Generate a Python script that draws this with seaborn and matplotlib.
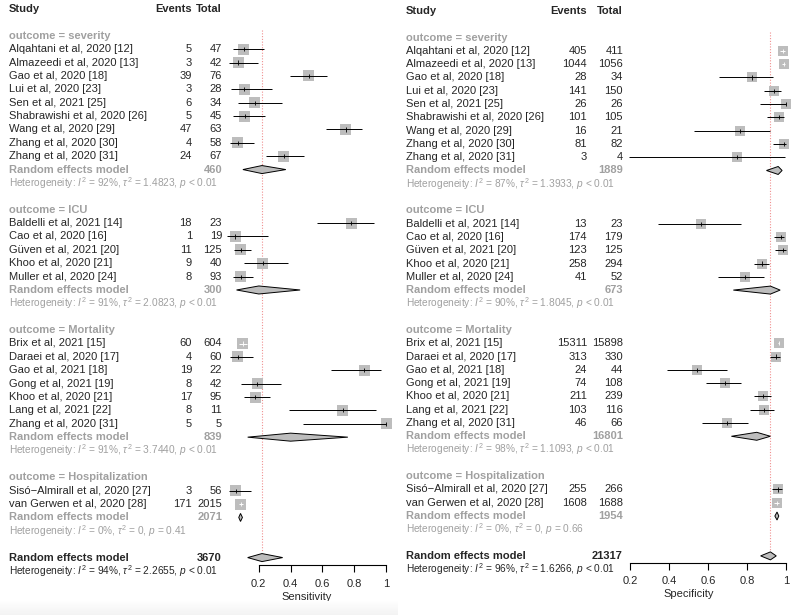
import numpy as np
import pandas as pd
import matplotlib
matplotlib.use("Agg")
import matplotlib.pyplot as plt
import matplotlib.transforms as mtransforms
import seaborn as sns

GROUPS = ["severity", "ICU", "Mortality", "Hospitalization"]
GROUP_SIZES = [9, 5, 7, 2]

STUDIES = [
    "Alqahtani et al, 2020 [12]", "Almazeedi et al, 2020 [13]", "Gao et al, 2020 [18]",
    "Lui et al, 2020 [23]", "Sen et al, 2021 [25]", "Shabrawishi et al, 2020 [26]",
    "Wang et al, 2020 [29]", "Zhang et al, 2020 [30]", "Zhang et al, 2020 [31]",
    "Baldelli et al, 2021 [14]", "Cao et al, 2020 [16]", "Güven et al, 2021 [20]",
    "Khoo et al, 2020 [21]", "Muller et al, 2020 [24]",
    "Brix et al, 2021 [15]", "Daraei et al, 2020 [17]", "Gao et al, 2021 [18]",
    "Gong et al, 2021 [19]", "Khoo et al, 2020 [21]", "Lang et al, 2021 [22]",
    "Zhang et al, 2020 [31]",
    "Sisó\u2212Almirall et al, 2020 [27]", "van Gerwen et al, 2020 [28]",
]

# sensitivity panel
sens_events = [5, 3, 39, 3, 6, 5, 47, 4, 24, 18, 1, 11, 9, 8, 60, 4, 19, 8, 17, 8, 5, 3, 171]
sens_total = [47, 42, 76, 28, 34, 45, 63, 58, 67, 23, 19, 125, 40, 93, 604, 60, 22, 42, 95, 11, 5, 56, 2015]
sens_est = [0.106, 0.071, 0.513, 0.107, 0.176, 0.111, 0.746, 0.069, 0.358,
            0.783, 0.053, 0.088, 0.225, 0.086,
            0.099, 0.067, 0.864, 0.190, 0.179, 0.727, 1.000,
            0.054, 0.085]
sens_lo = [0.035, 0.015, 0.396, 0.023, 0.068, 0.037, 0.620, 0.019, 0.246,
           0.563, 0.001, 0.045, 0.108, 0.038,
           0.077, 0.018, 0.651, 0.086, 0.108, 0.390, 0.478,
           0.011, 0.073]
sens_hi = [0.231, 0.195, 0.630, 0.282, 0.345, 0.241, 0.847, 0.167, 0.484,
           0.925, 0.260, 0.152, 0.385, 0.162,
           0.126, 0.162, 0.971, 0.341, 0.271, 0.940, 1.000,
           0.149, 0.098]
sens_re_est = [0.22, 0.20, 0.40, 0.085]
sens_re_lo = [0.10, 0.06, 0.13, 0.074]
sens_re_hi = [0.37, 0.46, 0.76, 0.097]
sens_re_total = [460, 300, 839, 2071]
sens_het = [("92%", "1.4823", "< 0.01"), ("91%", "2.0823", "< 0.01"),
            ("91%", "3.7440", "< 0.01"), ("0%", "0", "= 0.41")]
sens_all = (0.22, 0.13, 0.35)
sens_all_total = 3670
sens_all_het = ("94%", "2.2655", "< 0.01")

# specificity panel
spec_events = [405, 1044, 28, 141, 26, 101, 16, 81, 3, 13, 174, 123, 258, 41,
               15311, 313, 24, 74, 211, 103, 46, 255, 1608]
spec_total = [411, 1056, 34, 150, 26, 105, 21, 82, 4, 23, 179, 125, 294, 52,
              15898, 330, 44, 108, 239, 116, 66, 266, 1688]
spec_est = [0.985, 0.989, 0.824, 0.940, 1.000, 0.962, 0.762, 0.988, 0.750,
            0.565, 0.972, 0.984, 0.878, 0.788,
            0.963, 0.948, 0.545, 0.685, 0.883, 0.888, 0.697,
            0.959, 0.953]
spec_lo = [0.969, 0.980, 0.655, 0.889, 0.868, 0.905, 0.528, 0.934, 0.194,
           0.345, 0.936, 0.943, 0.835, 0.652,
           0.960, 0.919, 0.388, 0.589, 0.835, 0.816, 0.571,
           0.927, 0.941]
spec_hi = [0.995, 0.994, 0.932, 0.972, 1.000, 0.990, 0.918, 1.000, 0.994,
           0.768, 0.991, 0.998, 0.913, 0.889,
           0.966, 0.970, 0.696, 0.771, 0.921, 0.939, 0.804,
           0.979, 0.962]
spec_re_est = [0.96, 0.92, 0.85, 0.954]
spec_re_lo = [0.90, 0.73, 0.72, 0.943]
spec_re_hi = [0.98, 0.97, 0.92, 0.963]
spec_re_total = [1889, 673, 16801, 1954]
spec_het = [("87%", "1.3933", "< 0.01"), ("90%", "1.8045", "< 0.01"),
            ("98%", "1.1093", "< 0.01"), ("0%", "0", "= 0.66")]
spec_all = (0.92, 0.87, 0.95)
spec_all_total = 21317
spec_all_het = ("96%", "1.6266", "< 0.01")

TICKS = [0.2, 0.4, 0.6, 0.8, 1.0]
TICK_LABELS = ["0.2", "0.4", "0.6", "0.8", "1"]

GRAY = "#A0A0A0"
SQUARE = "#BDBDBD"
W, H = 797, 615

sns.set_style("white")
plt.rcParams["font.family"] = ["Liberation Sans", "DejaVu Sans"]
plt.rcParams["mathtext.fontset"] = "custom"
plt.rcParams["mathtext.rm"] = "Liberation Sans"
plt.rcParams["mathtext.it"] = "Liberation Sans:italic"
plt.rcParams["mathtext.bf"] = "Liberation Sans:bold"


def het_text(h):
    return f"Heterogeneity: $I^2$ = {h[0]}, $\\tau^2$ = {h[1]}, $p$ {h[2]}"


def draw_panel(fig, ax_px, top, step, cols, events, totals, est, lo, hi,
               re_est, re_lo, re_hi, re_total, het, overall, all_total, all_het,
               xlabel, sq, axis_row):
    x0, width = ax_px
    ax = fig.add_axes([x0 / W, 0, width / W, 1])
    ax.set_xlim(0, 1)
    ax.set_ylim((H - top) / step, -top / step)
    ax.patch.set_alpha(0)
    trans = mtransforms.blended_transform_factory(fig.transFigure, ax.transData)
    xs, xe, xt = [c / W for c in cols]

    # header
    ax.text(xs, 0, "Study", transform=trans, fontsize=8, fontweight="bold", va="center")
    ax.text(xe, 0, "Events", transform=trans, fontsize=8, fontweight="bold", va="center", ha="right")
    ax.text(xt, 0, "Total", transform=trans, fontsize=8, fontweight="bold", va="center", ha="right")

    rows = []
    r = 2
    i = 0
    for g, n in enumerate(GROUP_SIZES):
        ax.text(xs, r, f"outcome = {GROUPS[g]}", transform=trans, fontsize=8,
                fontweight="bold", color=GRAY, va="center")
        for k in range(n):
            rr = r + 1 + k
            rows.append(rr)
            ax.text(xs, rr, STUDIES[i], transform=trans, fontsize=8, va="center")
            ax.text(xe, rr, str(events[i]), transform=trans, fontsize=8, va="center", ha="right")
            ax.text(xt, rr, str(totals[i]), transform=trans, fontsize=8, va="center", ha="right")
            i += 1
        rr = r + 1 + n
        ax.text(xs, rr, "Random effects model", transform=trans, fontsize=8,
                fontweight="bold", color=GRAY, va="center")
        ax.text(xt, rr, str(re_total[g]), transform=trans, fontsize=8,
                fontweight="bold", color=GRAY, va="center", ha="right")
        ax.fill([re_lo[g], re_est[g], re_hi[g], re_est[g]], [rr, rr - 0.3, rr, rr + 0.3],
                facecolor=SQUARE, edgecolor="black", lw=0.7, clip_on=False, zorder=3)
        ax.text(xs, rr + 1, het_text(het[g]), transform=trans, fontsize=7.3,
                color=GRAY, va="center")
        r += n + 4

    ax.text(xs, r, "Random effects model", transform=trans, fontsize=8,
            fontweight="bold", va="center")
    ax.text(xt, r, str(all_total), transform=trans, fontsize=8,
            fontweight="bold", va="center", ha="right")
    ax.text(xs, r + 1, het_text(all_het), transform=trans, fontsize=7.3, va="center")
    e, l, h = overall
    ax.fill([l, e, h, e], [r, r - 0.3, r, r + 0.3], facecolor=SQUARE,
            edgecolor="black", lw=0.7, clip_on=False, zorder=3)

    df = pd.DataFrame({"est": est, "lo": lo, "hi": hi, "row": rows})
    df["inside"] = (df["hi"] - df["lo"]) * width < sq - 1
    df["lc"] = np.where(df["inside"], "white", "black")

    sns.scatterplot(data=df, x="est", y="row", marker="s", s=(sq * 0.72) ** 2,
                    color=SQUARE, edgecolor="none", linewidth=0, ax=ax,
                    clip_on=False, zorder=2, legend=False)
    ax.hlines(df["row"], df["lo"], df["hi"], colors=df["lc"], lw=0.7,
              clip_on=False, zorder=4)
    ax.scatter(df["est"], df["row"], marker="|", s=9, c=df["lc"], linewidths=0.6,
               clip_on=False, zorder=5)

    ax.vlines(e, 1.6, 40.6, colors="#F09090", linestyles=(0, (1, 1.5)), lw=0.8, zorder=1)

    for s in ["top", "left", "right"]:
        ax.spines[s].set_visible(False)
    ax.spines["bottom"].set_position(("data", axis_row))
    ax.spines["bottom"].set_bounds(0.2, 1)
    ax.spines["bottom"].set_linewidth(0.8)
    ax.spines["bottom"].set_color("black")
    ax.set_yticks([])
    ax.set_xticks(TICKS)
    ax.set_xticklabels(TICK_LABELS)
    ax.tick_params(axis="x", direction="out", length=5, width=0.8, labelsize=8,
                   pad=5, bottom=True, color="black")
    ax.set_xlabel(xlabel, fontsize=8, labelpad=2)
    ax.set_ylabel("")
    return ax


fig = plt.figure(figsize=(W / 100, H / 100), dpi=100)

draw_panel(fig, (227, 159), 9, 13.38, (9, 192, 222), sens_events, sens_total,
           sens_est, sens_lo, sens_hi, sens_re_est, sens_re_lo, sens_re_hi,
           sens_re_total, sens_het, sens_all, sens_all_total, sens_all_het,
           "Sensitivity", 11.0, 41.55)
draw_panel(fig, (591, 195), 11, 13.29, (406, 587, 623), spec_events, spec_total,
           spec_est, spec_lo, spec_hi, spec_re_est, spec_re_lo, spec_re_hi,
           spec_re_total, spec_het, spec_all, spec_all_total, spec_all_het,
           "Specificity", 10.0, 41.5)

# faint shadow along the bottom of the left panel
gax = fig.add_axes([0, 0, 398 / W, 14 / H])
gax.imshow(np.linspace(0, 1, 20).reshape(-1, 1), aspect="auto", cmap="Greys",
           vmin=0, vmax=10, extent=[0, 1, 0, 1], origin="upper")
gax.axis("off")

fig.savefig("out.png", dpi=100)
